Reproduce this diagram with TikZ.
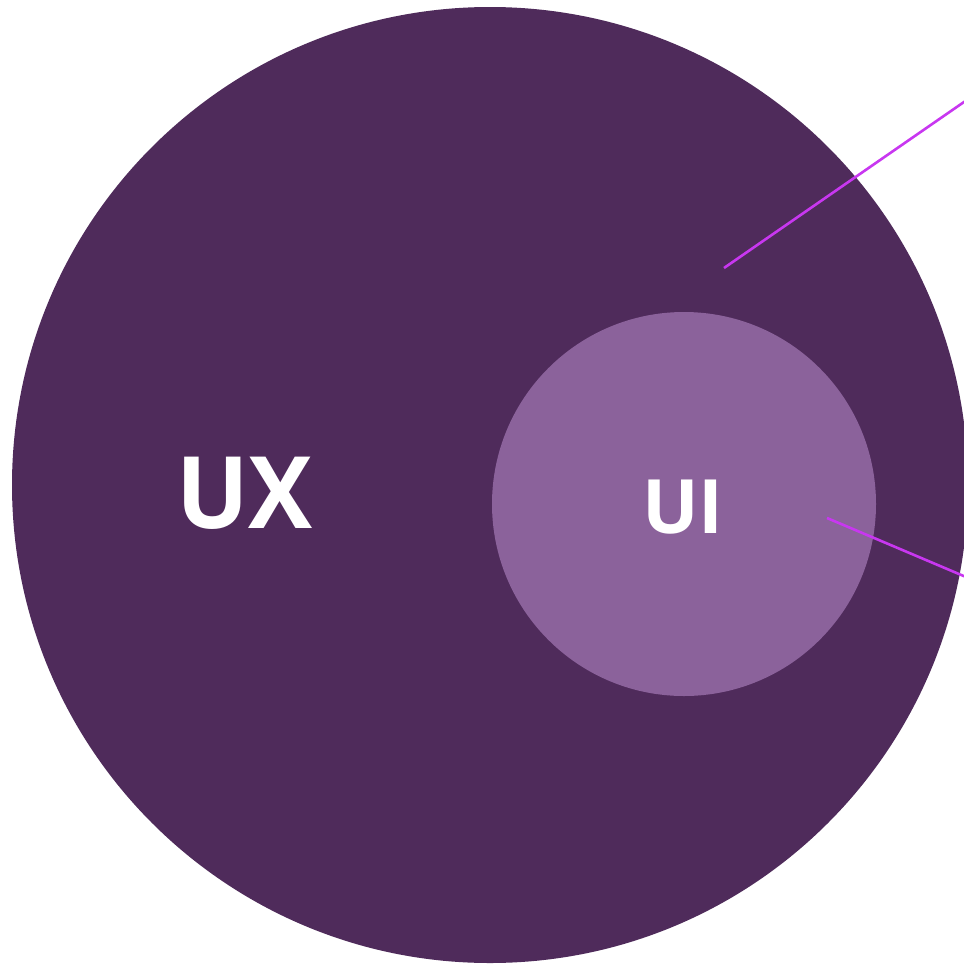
\documentclass[tikz,border=0pt]{standalone}
\usepackage{fontspec}
\setmainfont{Open Sans}
\definecolor{uxcol}{HTML}{4F2B5B}
\definecolor{uicol}{HTML}{8B629B}
\definecolor{linecol}{HTML}{C837F0}
\begin{document}
\begin{tikzpicture}[x=0.5pt,y=-0.5pt,
  lbl/.style={text=white,font=\bfseries,anchor=base,inner sep=0pt},
  ptr/.style={draw=linecol,line width=1.3pt}]
\useasboundingbox (0,0) rectangle (964,964);
\clip (0,0) rectangle (964,964);
\fill[uxcol] (490,485) circle [radius=239pt];
\fill[uicol] (684,504) circle [radius=96pt];
\node[lbl,font=\bfseries\fontsize{50}{58}\selectfont,xscale=0.96] (ux) at (244.5,528) {UX};
\node[lbl,font=\bfseries\fontsize{37.5}{44}\selectfont] (ui) at (683,533) {UI};
\coordinate (p1) at (724,268);
\coordinate (q1) at (966,100.6);
\coordinate (p2) at (827,518);
\coordinate (q2) at (966,577);
\draw[ptr] (p1) -- (q1);
\draw[ptr] (p2) -- (q2);
\end{tikzpicture}
\end{document}
